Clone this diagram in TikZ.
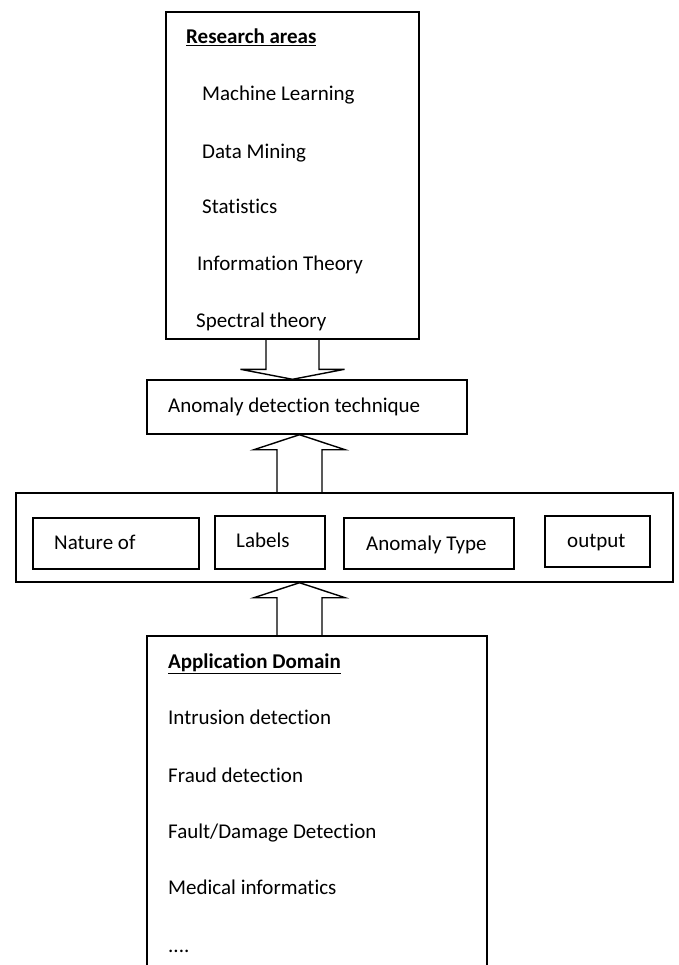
\documentclass[tikz,border=0pt]{standalone}
\usepackage{fontspec}
\setmainfont{Carlito}[Ligatures=NoCommon]
\usetikzlibrary{calc}

\tikzset{
  box/.style={draw, line width=1.4pt, inner sep=0pt},
  blockarr/.style={draw, line width=1.4pt, line join=miter},
  txt/.style={anchor=west, inner sep=0pt, text height=14pt, text depth=0pt, font=\fontsize{21}{25}\selectfont},
}

\begin{document}
\begin{tikzpicture}[x=1pt, y=-1pt]
	%%%%% START %%%%%
	\def\shd{26.5}
	\def\whd{52}
	\def\hld{10}
	\def\shu{22.5}
	\def\whu{45.5}
	\def\hlu{15}
	\useasboundingbox (0,0) rectangle (678,965);

	\node[box, minimum width=253pt, minimum height=327pt] (research) at (292.5,175.5) {};
	\node[box, minimum width=320pt, minimum height=54pt] (tech) at (307,407) {};
	\node[box, minimum width=657pt, minimum height=89pt] (mid) at (344.5,537.5) {};
	\node[box, minimum width=166pt, minimum height=51pt] (nature) at (116,543.5) {};
	\node[box, minimum width=110pt, minimum height=53pt] (labels) at (270,542.5) {};
	\node[box, minimum width=170pt, minimum height=51pt] (type) at (429,543.5) {};
	\node[box, minimum width=105pt, minimum height=51pt] (output) at (597.5,541.5) {};
	\draw[box] (147,965) |- (487,636) -- (487,965);
	\coordinate (app) at (317,636);
	\coordinate (ax) at (299.5,0);

	\node[txt] (ra) at (186,37) {\underline{\textbf{Research areas}}};
	\node[txt] (ml) at (202,94) {Machine Learning};
	\node[txt] (dm) at (202,152) {Data Mining};
	\node[txt] (st) at (202,207) {Statistics};
	\node[txt] (it) at (197,264) {Information Theory};
	\node[txt] (sp) at (196,320) {Spectral theory};

	\node[txt] (adt) at (168,405) {Anomaly detection technique};

	\node[txt] (nat) at (54,542) {Nature of};
	\node[txt] (lab) at (236,540) {Labels};
	\node[txt] (aty) at (366,543) {Anomaly Type};
	\node[txt] (out) at (567,540) {output};

	\node[txt] (ad) at (168,661) {\underline{\textbf{Application Domain}}};
	\node[txt] (id) at (168,717) {Intrusion detection};
	\node[txt] (fd) at (168,775) {Fraud detection};
	\node[txt] (fdd) at (168,831) {Fault/Damage Detection};
	\node[txt] (mi) at (168,887) {Medical informatics};
	\node[txt] (dots) at (168,945) {....};

	% research areas -> technique
	\draw[blockarr] ($(research.south)+(-\shd,0)$) |- ($(tech.north -| research.south)+(-\whd,-\hld)$)
		-- (tech.north -| research.south) -- ($(tech.north -| research.south)+(\whd,-\hld)$) -| ($(research.south)+(\shd,0)$);
	% characteristics -> technique
	\draw[blockarr] ($(mid.north -| ax)+(-\shu,0)$) |- ($(tech.south -| ax)+(-\whu,\hlu)$)
		-- (tech.south -| ax) -- ($(tech.south -| ax)+(\whu,\hlu)$) -| ($(mid.north -| ax)+(\shu,0)$);
	% application domain -> characteristics
	\draw[blockarr] ($(app -| ax)+(-\shu,0)$) |- ($(mid.south -| ax)+(-\whu,\hlu)$)
		-- (mid.south -| ax) -- ($(mid.south -| ax)+(\whu,\hlu)$) -| ($(app -| ax)+(\shu,0)$);
	%%%%% END %%%%%
\end{tikzpicture}
\end{document}
